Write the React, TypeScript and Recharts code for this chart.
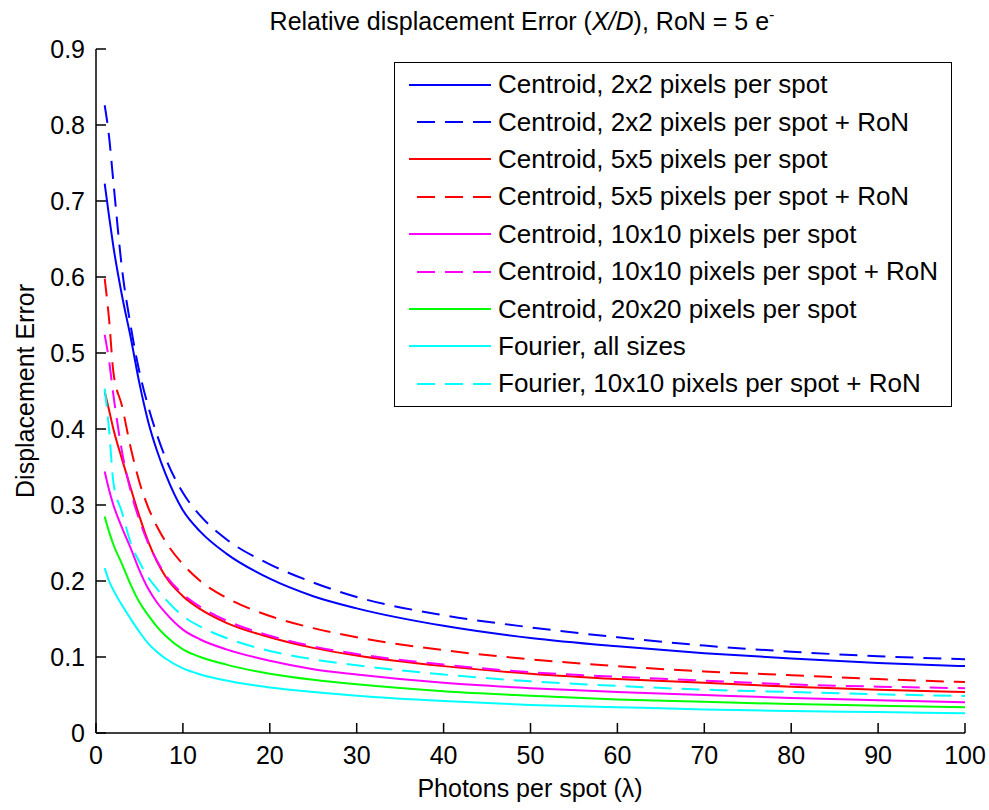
import { Legend, Line, LineChart, XAxis, YAxis } from 'recharts';

// photons per spot (x) and the displacement error
const PHOTONS = [1, 1.5, 2, 3, 4, 5, 6, 7, 8, 10, 12, 15, 20, 25, 30, 40, 50, 60, 70, 80, 90, 100];
const centroid2 = [0.723, 0.68, 0.64, 0.575, 0.52, 0.46, 0.41, 0.372, 0.341, 0.293, 0.265, 0.236, 0.203, 0.18, 0.164, 0.141, 0.125, 0.114, 0.105, 0.098, 0.092, 0.088];
const centroid2Ron = [0.826, 0.785, 0.725, 0.61, 0.535, 0.475, 0.43, 0.393, 0.362, 0.316, 0.286, 0.255, 0.222, 0.198, 0.179, 0.155, 0.139, 0.126, 0.115, 0.107, 0.101, 0.097];
const centroid5 = [0.449, 0.425, 0.4, 0.36, 0.322, 0.285, 0.252, 0.226, 0.206, 0.18, 0.163, 0.145, 0.126, 0.112, 0.102, 0.088, 0.078, 0.071, 0.066, 0.061, 0.057, 0.054];
const centroid5Ron = [0.598, 0.545, 0.475, 0.43, 0.375, 0.33, 0.297, 0.272, 0.252, 0.222, 0.2, 0.178, 0.154, 0.138, 0.126, 0.109, 0.097, 0.088, 0.081, 0.076, 0.071, 0.067];
const centroid10 = [0.344, 0.32, 0.3, 0.27, 0.243, 0.214, 0.19, 0.172, 0.158, 0.136, 0.123, 0.11, 0.095, 0.084, 0.077, 0.066, 0.059, 0.054, 0.05, 0.046, 0.043, 0.0404];
const centroid10Ron = [0.524, 0.49, 0.445, 0.37, 0.318, 0.28, 0.25, 0.227, 0.208, 0.183, 0.166, 0.148, 0.128, 0.114, 0.104, 0.09, 0.08, 0.074, 0.069, 0.064, 0.061, 0.059];
const centroid20 = [0.285, 0.265, 0.248, 0.222, 0.195, 0.172, 0.155, 0.14, 0.128, 0.11, 0.1, 0.09, 0.078, 0.07, 0.064, 0.055, 0.049, 0.044, 0.041, 0.038, 0.036, 0.034];
const fourierAll = [0.217, 0.2, 0.188, 0.168, 0.15, 0.133, 0.118, 0.107, 0.098, 0.085, 0.077, 0.069, 0.06, 0.054, 0.049, 0.042, 0.037, 0.034, 0.031, 0.029, 0.0275, 0.026];
const fourier10Ron = [0.453, 0.4, 0.33, 0.29, 0.25, 0.225, 0.205, 0.19, 0.176, 0.154, 0.14, 0.125, 0.108, 0.097, 0.089, 0.077, 0.068, 0.062, 0.057, 0.054, 0.051, 0.0487];

const X_TICKS = [0, 10, 20, 30, 40, 50, 60, 70, 80, 90, 100];
const Y_TICKS = [0, 0.1, 0.2, 0.3, 0.4, 0.5, 0.6, 0.7, 0.8, 0.9];

const SERIES = [
    { key: 'c2', name: 'Centroid, 2x2 pixels per spot', color: '#0000ff', dashed: false, values: centroid2 },
    { key: 'c2r', name: 'Centroid, 2x2 pixels per spot + RoN', color: '#0000ff', dashed: true, values: centroid2Ron },
    { key: 'c5', name: 'Centroid, 5x5 pixels per spot', color: '#ff0000', dashed: false, values: centroid5 },
    { key: 'c5r', name: 'Centroid, 5x5 pixels per spot + RoN', color: '#ff0000', dashed: true, values: centroid5Ron },
    { key: 'c10', name: 'Centroid, 10x10 pixels per spot', color: '#ff00ff', dashed: false, values: centroid10 },
    { key: 'c10r', name: 'Centroid, 10x10 pixels per spot + RoN', color: '#ff00ff', dashed: true, values: centroid10Ron },
    { key: 'c20', name: 'Centroid, 20x20 pixels per spot', color: '#00ff00', dashed: false, values: centroid20 },
    { key: 'f', name: 'Fourier, all sizes', color: '#00ffff', dashed: false, values: fourierAll },
    { key: 'fr', name: 'Fourier, 10x10 pixels per spot + RoN', color: '#00ffff', dashed: true, values: fourier10Ron },
];

const data = PHOTONS.map((x, i) => {
    const row: Record<string, number> = { x };
    SERIES.forEach(s => { row[s.key] = s.values[i]; });
    return row;
});

const FONT = '"Liberation Sans", Arial, sans-serif';
const DASH = '18 10';

const XTick = ({ x, y, payload }: any) => (
    <g>
        <line x1={x} y1={y} x2={x} y2={y - 10} stroke="#000" strokeWidth={1.5} />
        <text x={x} y={y + 31} textAnchor="middle" fontSize={25} fontFamily={FONT} fill="#000">{payload.value}</text>
    </g>
);

const YTick = ({ x, y, payload }: any) => (
    <g>
        <line x1={x} y1={y} x2={x + 10} y2={y} stroke="#000" strokeWidth={1.5} />
        <text x={x - 11} y={y + 9} textAnchor="end" fontSize={25} fontFamily={FONT} fill="#000">{payload.value}</text>
    </g>
);

const renderLegend = () => (
    <div style={{ border: '1.5px solid #000', background: '#fff', padding: '3px 0', fontFamily: FONT, fontSize: 26, color: '#000' }}>
        {SERIES.map(s => (
            <div key={s.key} style={{ display: 'flex', alignItems: 'center', height: 37.4 }}>
                <svg width={82} height={10} style={{ marginLeft: 14, flex: 'none' }}>
                    <line
                        x1={s.dashed ? 8 : 0}
                        y1={5}
                        x2={82}
                        y2={5}
                        stroke={s.color}
                        strokeWidth={2}
                        strokeDasharray={s.dashed ? DASH : undefined}
                    />
                </svg>
                <span style={{ marginLeft: 7, whiteSpace: 'nowrap' }}>{s.name}</span>
            </div>
        ))}
    </div>
);

export default function App() {
    return (
        <div style={{ position: 'absolute', left: 0, top: 0, width: 989, height: 810, background: '#fff' }}>
            <LineChart width={989} height={810} data={data} margin={{ top: 49, right: 24, bottom: 47, left: 36 }}>
                <XAxis
                    dataKey="x"
                    type="number"
                    domain={[0, 100]}
                    ticks={X_TICKS}
                    interval={0}
                    height={30}
                    tickSize={0}
                    tickMargin={0}
                    tickLine={false}
                    tick={<XTick />}
                    axisLine={{ stroke: '#000', strokeWidth: 1.5 }}
                />
                <YAxis
                    type="number"
                    domain={[0, 0.9]}
                    ticks={Y_TICKS}
                    interval={0}
                    width={60}
                    allowDataOverflow
                    tickSize={0}
                    tickMargin={0}
                    tickLine={false}
                    tick={<YTick />}
                    axisLine={{ stroke: '#000', strokeWidth: 1.5 }}
                />
                <Legend
                    layout="vertical"
                    align="center"
                    verticalAlign="middle"
                    content={renderLegend}
                    wrapperStyle={{ left: 394, top: 62, width: 558 }}
                />
                {SERIES.map(s => (
                    <Line
                        key={s.key}
                        dataKey={s.key}
                        name={s.name}
                        type="monotone"
                        stroke={s.color}
                        strokeWidth={2}
                        strokeDasharray={s.dashed ? DASH : undefined}
                        dot={false}
                        activeDot={false}
                        isAnimationActive={false}
                    />
                ))}
            </LineChart>
            <svg width={989} height={810} style={{ position: 'absolute', left: 0, top: 0, pointerEvents: 'none' }}>
                <text x={522} y={30} textAnchor="middle" fontSize={25} fontFamily={FONT} fill="#000">
                    Relative displacement Error (<tspan fontStyle="italic">X/D</tspan>), RoN = 5 e<tspan dy={-10} fontSize={16}>-</tspan>
                </text>
                <text x={530} y={797} textAnchor="middle" fontSize={25} fontFamily={FONT} fill="#000">
                    Photons per spot (λ)
                </text>
                <text x={34} y={391} transform="rotate(-90, 34, 391)" textAnchor="middle" fontSize={25} fontFamily={FONT} fill="#000">
                    Displacement Error
                </text>
            </svg>
        </div>
    );
}
